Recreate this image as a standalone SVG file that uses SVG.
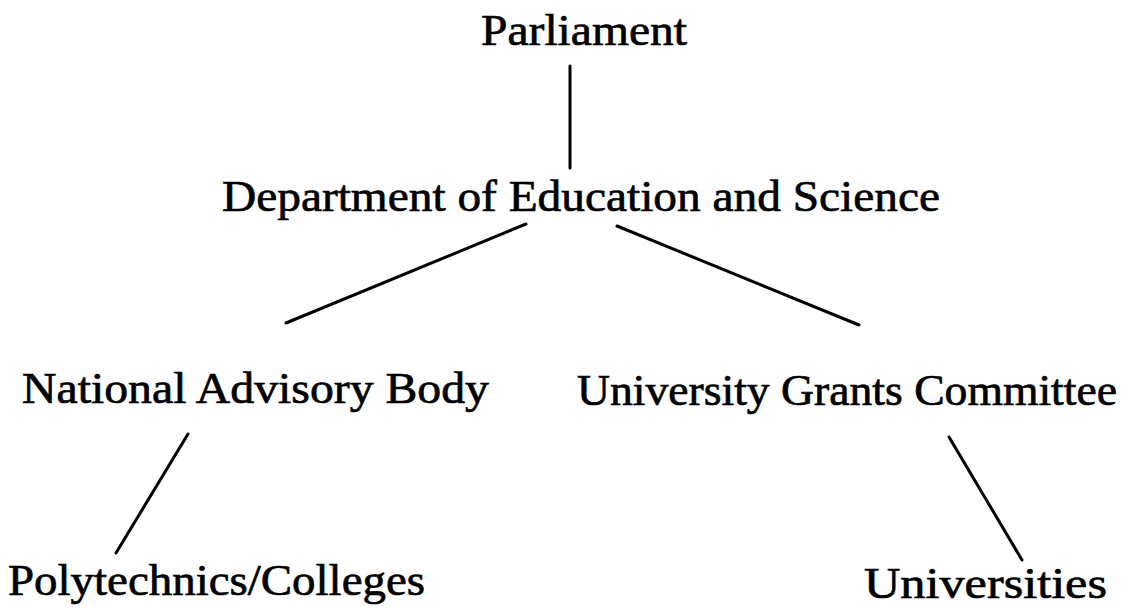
<svg xmlns="http://www.w3.org/2000/svg" width="1136" height="608" viewBox="0 0 1136 608">
<style>
text{font-family:"Liberation Serif","Times New Roman",serif;font-size:45px;fill:#000;stroke:#000;stroke-width:0.7}
.c line{stroke:#000;stroke-width:3;stroke-linecap:round}
</style>
<rect width="1136" height="608" fill="#fff"/>
<g class="c" id="connectors">
<line x1="570" y1="66" x2="570" y2="168"/>
<line x1="526" y1="224" x2="286" y2="323"/>
<line x1="617" y1="226" x2="859" y2="325"/>
<line x1="188" y1="434" x2="116" y2="553"/>
<line x1="949" y1="437" x2="1022" y2="560"/>
</g>
<g id="parliament"><text x="481" y="45" textLength="206" lengthAdjust="spacingAndGlyphs">Parliament</text></g>
<g id="des"><text x="222" y="211" textLength="718" lengthAdjust="spacingAndGlyphs">Department of Education and Science</text></g>
<g id="nab"><text x="22" y="403" textLength="467" lengthAdjust="spacingAndGlyphs">National Advisory Body</text></g>
<g id="ugc"><text x="577" y="405" textLength="540" lengthAdjust="spacingAndGlyphs">University Grants Committee</text></g>
<g id="poly"><text x="8" y="595" textLength="417" lengthAdjust="spacingAndGlyphs">Polytechnics/Colleges</text></g>
<g id="univ"><text x="864" y="598" textLength="243" lengthAdjust="spacingAndGlyphs">Universities</text></g>
</svg>
